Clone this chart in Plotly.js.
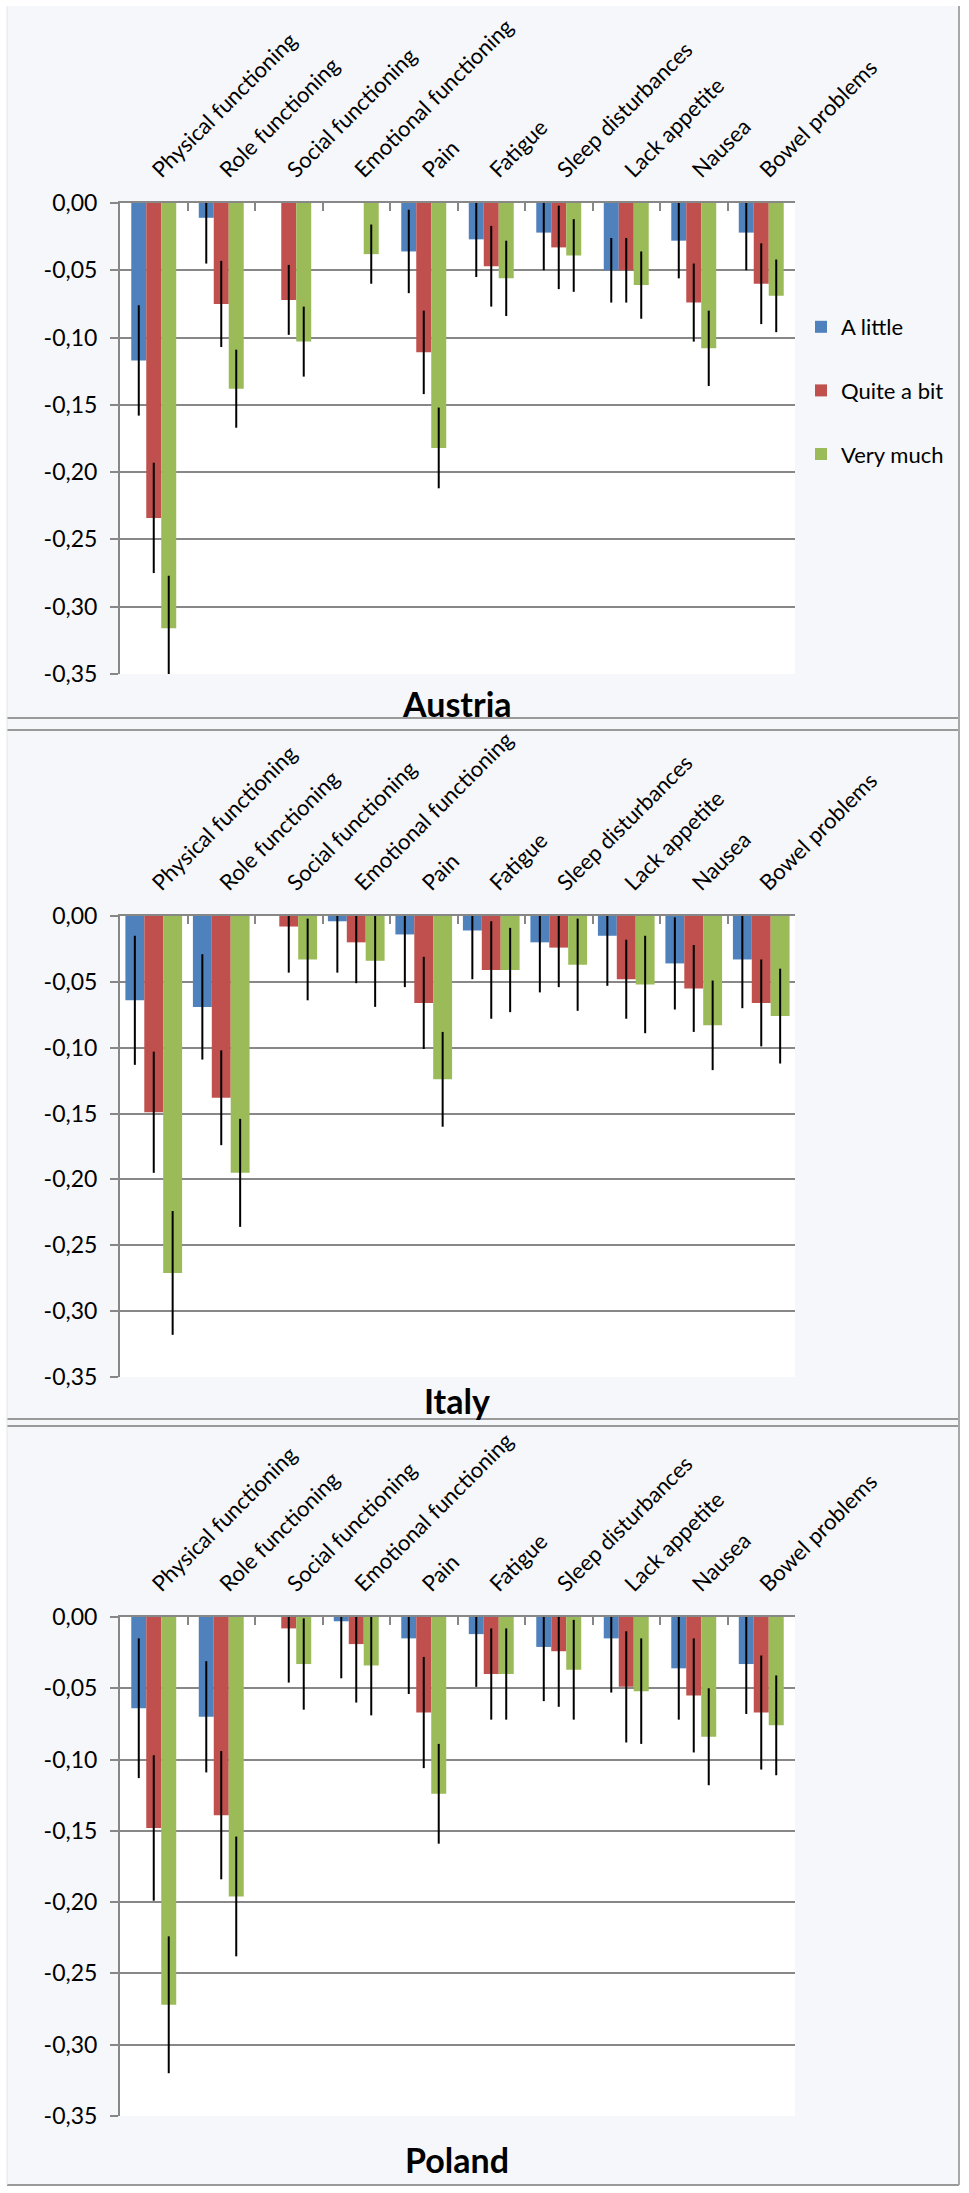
<!DOCTYPE html>
<html>
<head>
<meta charset="utf-8">
<script src="https://cdn.plot.ly/plotly-3.0.1.min.js"></script>
<style>
html,body{margin:0;padding:0;background:#ffffff;}
#chart{width:969px;height:2193px;}
</style>
</head>
<body>
<div id="chart"></div>
<script>
// ---------- DATA ----------
const categories = ["Physical functioning","Role functioning","Social functioning","Emotional functioning","Pain","Fatigue","Sleep disturbances","Lack appetite","Nausea","Bowel problems"];
const seriesNames = ["A little","Quite a bit","Very much"];
const countries = ["Austria","Italy","Poland"];

const austriaLittle    = [-0.117,-0.011, 0.000, 0.000,-0.036,-0.027,-0.022,-0.050,-0.028,-0.022];
const austriaLittleErr = [ 0.041, 0.034, 0.000, 0.000, 0.031, 0.028, 0.028, 0.024, 0.028, 0.028];
const austriaQuite     = [-0.234,-0.075,-0.072, 0.000,-0.111,-0.047,-0.033,-0.050,-0.074,-0.060];
const austriaQuiteErr  = [ 0.041, 0.032, 0.026, 0.000, 0.031, 0.030, 0.031, 0.024, 0.029, 0.030];
const austriaVery      = [-0.316,-0.138,-0.103,-0.038,-0.182,-0.056,-0.039,-0.061,-0.108,-0.069];
const austriaVeryErr   = [ 0.039, 0.029, 0.026, 0.022, 0.030, 0.028, 0.027, 0.025, 0.028, 0.027];

const italyLittle      = [-0.064,-0.069, 0.000,-0.004,-0.014,-0.011,-0.020,-0.015,-0.036,-0.033];
const italyLittleErr   = [ 0.049, 0.040, 0.000, 0.039, 0.040, 0.037, 0.038, 0.038, 0.035, 0.037];
const italyQuite       = [-0.149,-0.138,-0.008,-0.020,-0.066,-0.041,-0.024,-0.048,-0.055,-0.066];
const italyQuiteErr    = [ 0.046, 0.036, 0.035, 0.031, 0.035, 0.037, 0.030, 0.030, 0.033, 0.033];
const italyVery        = [-0.271,-0.195,-0.033,-0.034,-0.124,-0.041,-0.037,-0.052,-0.083,-0.076];
const italyVeryErr     = [ 0.047, 0.041, 0.031, 0.035, 0.036, 0.032, 0.035, 0.037, 0.034, 0.036];

const polandLittle     = [-0.064,-0.070, 0.000,-0.003,-0.015,-0.012,-0.021,-0.015,-0.036,-0.033];
const polandLittleErr  = [ 0.049, 0.039, 0.000, 0.040, 0.039, 0.037, 0.038, 0.038, 0.036, 0.035];
const polandQuite      = [-0.148,-0.139,-0.008,-0.019,-0.067,-0.040,-0.024,-0.049,-0.055,-0.067];
const polandQuiteErr   = [ 0.051, 0.045, 0.038, 0.041, 0.039, 0.032, 0.039, 0.039, 0.040, 0.040];
const polandVery       = [-0.272,-0.196,-0.033,-0.034,-0.124,-0.040,-0.037,-0.052,-0.084,-0.076];
const polandVeryErr    = [ 0.048, 0.042, 0.032, 0.035, 0.035, 0.032, 0.035, 0.037, 0.034, 0.035];

const yTickVals = [0,-0.05,-0.10,-0.15,-0.20,-0.25,-0.30,-0.35];
const yTickText = ["0,00","-0,05","-0,10","-0,15","-0,20","-0,25","-0,30","-0,35"];

// ---------- LAYOUT HELPERS ----------
const W = 969, H = 2193;
const px = v => v / W;
const py = v => 1 - v / H;
const colors = ["#4f81bd","#c0504d","#9bbb59"];
const FONT = "Lato, 'Open Sans', sans-serif";
const GRAY = "#878787";

const countryData = [
  {vals:[austriaLittle,austriaQuite,austriaVery], errs:[austriaLittleErr,austriaQuiteErr,austriaVeryErr], barW:0.222},
  {vals:[italyLittle,italyQuite,italyVery],       errs:[italyLittleErr,italyQuiteErr,italyVeryErr],       barW:0.28},
  {vals:[polandLittle,polandQuite,polandVery],    errs:[polandLittleErr,polandQuiteErr,polandVeryErr],    barW:0.222}
];
// plot area pixel boxes [top, bottom]
const boxes = [[203,674],[916,1377],[1617,2116]];
const xDom = [px(120), px(795)];
const titleY = [703, 1400, 2159];

const traces = [];
countryData.forEach((cd, ci) => {
  const suffix = ci === 0 ? "" : String(ci + 1);
  for (let s = 0; s < 3; s++) {
    traces.push({
      type: "bar",
      name: seriesNames[s],
      x: categories,
      y: cd.vals[s],
      xaxis: "x" + suffix,
      yaxis: "y" + suffix,
      width: cd.barW,
      offset: -1.5 * cd.barW + s * cd.barW,
      marker: {color: colors[s], line: {width: 0}},
      error_y: {type: "data", array: cd.errs[s], visible: true, color: "#000000", thickness: 2, width: 0},
      showlegend: ci === 0,
      legendgroup: seriesNames[s],
      hoverinfo: "x+y+name"
    });
  }
});

const layout = {
  width: W, height: H,
  margin: {l:0, r:0, t:0, b:0, pad:0},
  paper_bgcolor: "#f5f7fa",
  plot_bgcolor: "#ffffff",
  font: {family: FONT, color: "#000000", size: 22},
  barmode: "group",
  showlegend: true,
  legend: {
    x: px(801), y: py(306), xanchor: "left", yanchor: "top",
    font: {family: FONT, size: 22, color: "#000000"},
    bgcolor: "rgba(0,0,0,0)",
    traceorder: "grouped",
    tracegroupgap: 32
  },
  annotations: [],
  shapes: []
};

boxes.forEach((b, ci) => {
  const suffix = ci === 0 ? "" : String(ci + 1);
  layout["xaxis" + suffix] = {
    domain: xDom,
    anchor: "y" + suffix,
    side: "top",
    type: "category",
    showline: true, linecolor: GRAY, linewidth: 2,
    ticks: "inside", tickson: "boundaries", ticklen: 8, tickwidth: 2, tickcolor: GRAY,
    tickangle: -45,
    tickfont: {family: FONT, size: 22, color: "#000000"},
    ticklabelstandoff: 10,
    showgrid: false, zeroline: false, fixedrange: true
  };
  layout["yaxis" + suffix] = {
    domain: [py(b[1]), py(b[0])],
    anchor: "x" + suffix,
    range: [-0.35, 0],
    tickvals: yTickVals, ticktext: yTickText,
    showline: true, linecolor: GRAY, linewidth: 2,
    ticks: "outside", ticklen: 8, tickwidth: 2, tickcolor: GRAY,
    tickfont: {family: FONT, size: 23, color: "#000000"},
    ticklabelstandoff: 8,
    showgrid: true, gridcolor: GRAY, gridwidth: 2,
    zeroline: false, fixedrange: true
  };
  layout.annotations.push({
    text: "<b>" + countries[ci] + "</b>",
    xref: "paper", yref: "paper",
    x: px(457), y: py(titleY[ci]),
    xanchor: "center", yanchor: "middle",
    showarrow: false,
    font: {family: FONT, size: 34, color: "#000000"}
  });
});

// white page margins and panel separators
const rect = (x0,y0,x1,y1,fill) => ({type:"rect", xref:"paper", yref:"paper", x0:px(x0), x1:px(x1), y0:py(y1), y1:py(y0), fillcolor:fill, line:{width:0}, layer:"above"});
const hline = (y,x0,x1) => ({type:"line", xref:"paper", yref:"paper", x0:px(x0), x1:px(x1), y0:py(y), y1:py(y), line:{color:"#9a9a9a", width:2}, layer:"above"});
layout.shapes.push(rect(0,0,7,H,"#ffffff"));
layout.shapes.push(rect(959,0,W,H,"#ffffff"));
layout.shapes.push(rect(0,0,W,6,"#ffffff"));
layout.shapes.push(rect(0,2185,W,H,"#ffffff"));
[718,730,1419,1426,2185].forEach(y => layout.shapes.push(hline(y,7,959)));
layout.shapes.push({type:"line", xref:"paper", yref:"paper", x0:px(959), x1:px(959), y0:py(2185), y1:py(6), line:{color:"#a8a8a8", width:2}, layer:"above"});
layout.shapes.push({type:"line", xref:"paper", yref:"paper", x0:px(7), x1:px(7), y0:py(2185), y1:py(6), line:{color:"#e4e7ea", width:1}, layer:"above"});

Plotly.newPlot("chart", traces, layout, {staticPlot: true, displayModeBar: false});
</script>
</body>
</html>
